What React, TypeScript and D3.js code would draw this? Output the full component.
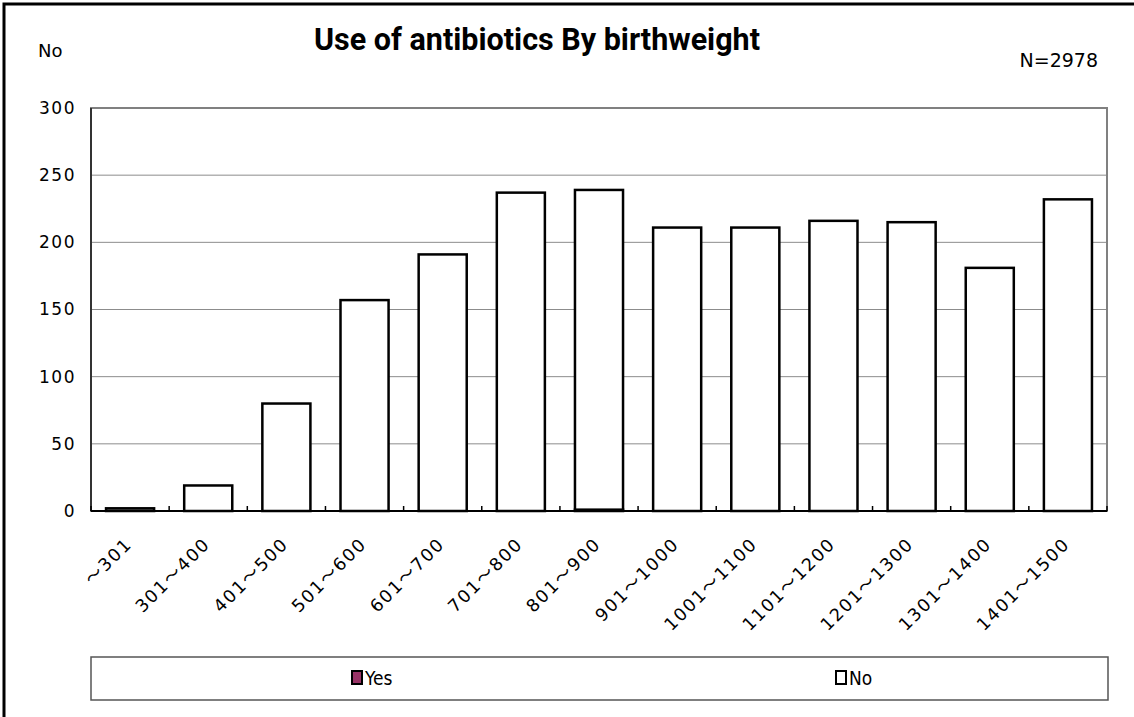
import React from 'react';
import * as d3 from 'd3';

const categories = ['～301', '301～400', '401～500', '501～600', '601～700', '701～800', '801～900', '901～1000', '1001～1100', '1101～1200', '1201～1300', '1301～1400', '1401～1500'];
const yesValues = [0, 0, 0, 0, 0, 0, 1, 0, 0, 0, 0, 0, 0];
const noValues = [2, 19, 80, 157, 191, 237, 238, 211, 211, 216, 215, 181, 232];
const yTicks = [0, 50, 100, 150, 200, 250, 300];
const seriesKeys = ['Yes', 'No'];
const seriesColors = ['#993366', '#ffffff'];

const W = 1134;
const H = 717;
const plot = { left: 91, right: 1107, top: 108, bottom: 511 };

const labelFont = '"DejaVu Sans", "Noto Sans CJK JP", sans-serif';

const App: React.FC = () => {
  const rows = categories.map((c, i) => ({ cat: c, Yes: yesValues[i], No: noValues[i] }));

  const x = d3.scaleBand<string>()
    .domain(categories)
    .range([plot.left, plot.right])
    .paddingInner(0.385)
    .paddingOuter(0.1925);

  const y = d3.scaleLinear().domain([0, 300]).range([plot.bottom, plot.top]);

  const stacked = d3.stack<any>().keys(seriesKeys)(rows);
  const step = x.step();
  const boundaries = d3.range(categories.length + 1).map(i => plot.left + i * step);

  return (
    <svg width={W} height={H} style={{ position: 'absolute', left: 0, top: 0, background: '#fff' }}>
      {/* outer frame, only top and left edges visible */}
      <rect x={4} y={4} width={1300} height={900} fill="#fff" stroke="#000" strokeWidth={3} />

      <text x={537} y={50} textAnchor="middle" fontFamily="Roboto, sans-serif" fontWeight={700} fontSize={30.5}>
        Use of antibiotics By birthweight
      </text>
      <text x={38} y={57} fontFamily={labelFont} fontSize={18}>No</text>
      <text x={1098} y={67} textAnchor="end" fontFamily={labelFont} fontSize={19}>N=2978</text>

      {/* gridlines */}
      {yTicks.filter(t => t > 0 && t < 300).map(t => (
        <line key={t} x1={plot.left} x2={plot.right} y1={y(t)} y2={y(t)} stroke="#8c8c8c" strokeWidth={1} />
      ))}
      {/* plot border */}
      <rect x={plot.left} y={plot.top} width={plot.right - plot.left} height={plot.bottom - plot.top}
        fill="none" stroke="#808080" strokeWidth={2} />

      {/* bars */}
      {stacked.map((s, si) => (
        <g key={s.key}>
          {s.map((d, i) => {
            const h = y(d[0]) - y(d[1]);
            if (h <= 0) return null;
            return (
              <rect key={i} x={x(categories[i])} y={y(d[1])} width={x.bandwidth()} height={h}
                fill={seriesColors[si]} stroke="#000" strokeWidth={2.5} />
            );
          })}
        </g>
      ))}

      {/* axes */}
      <line x1={plot.left} x2={plot.left} y1={plot.top} y2={plot.bottom} stroke="#333" strokeWidth={2} />
      <line x1={plot.left} x2={plot.right} y1={plot.bottom} y2={plot.bottom} stroke="#000" strokeWidth={2} />
      {boundaries.map((b, i) => (
        <line key={i} x1={b} x2={b} y1={plot.bottom} y2={plot.bottom - 5} stroke="#000" strokeWidth={1.5} />
      ))}

      {/* y labels */}
      {yTicks.map(t => (
        <text key={t} x={76} y={y(t)} dy="0.35em" textAnchor="end" fontFamily={labelFont} fontSize={17}
          letterSpacing={1.5}>
          {t}
        </text>
      ))}

      {/* x labels */}
      {categories.map(c => {
        const cx = (x(c) as number) + x.bandwidth() / 2 + 3;
        const cy = 545;
        return (
          <text key={c} x={cx} y={cy} textAnchor="end" fontFamily={labelFont} fontSize={17.5}
            letterSpacing={1.8} transform={`rotate(-45 ${cx} ${cy})`}>
            {c}
          </text>
        );
      })}

      {/* legend */}
      <rect x={91} y={657} width={1017} height={43} fill="#fff" stroke="#555" strokeWidth={1.5} />
      {seriesKeys.map((k, i) => {
        const lx = i === 0 ? 352 : 836;
        return (
          <g key={k}>
            <rect x={lx} y={671} width={10} height={13} fill={seriesColors[i]} stroke="#000" strokeWidth={2} />
            <text x={lx + 13} y={685} fontFamily='"DejaVu Sans Condensed", "DejaVu Sans", sans-serif' fontSize={19}>
              {k}
            </text>
          </g>
        );
      })}
    </svg>
  );
};

export default App;
